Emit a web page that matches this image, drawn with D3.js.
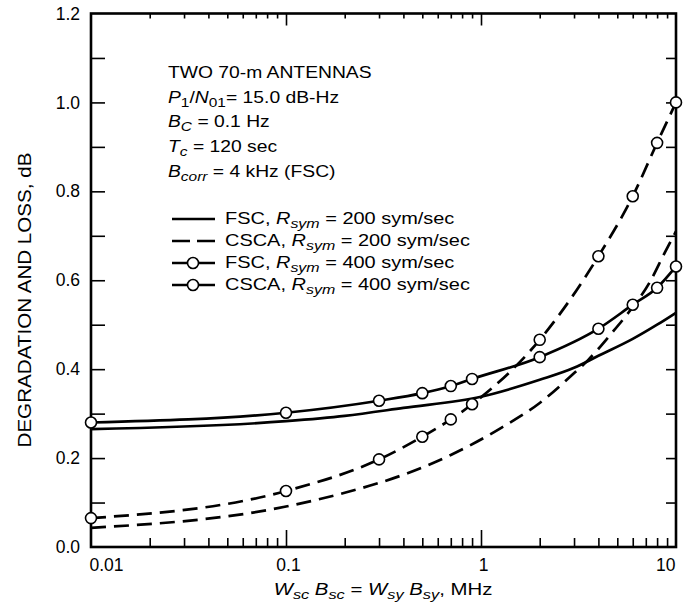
<!DOCTYPE html>
<html><head><meta charset="utf-8">
<script src="https://cdn.jsdelivr.net/npm/d3@7"></script>
<style>body{margin:0;background:#fff} text{font-family:"Liberation Sans",Arial,Helvetica,sans-serif;fill:#000}</style>
</head><body><svg id="c" width="692" height="608"></svg>
<script>
// ---- data ----
const fsc200X  = [0.01, 0.1, 0.2, 0.4, 1, 2, 3, 4, 6, 8, 10];
const fsc200Y  = [0.265, 0.283, 0.295, 0.313, 0.338, 0.376, 0.403, 0.43, 0.468, 0.50, 0.527];
const csca200X = [0.01, 0.1, 0.2, 0.42, 0.7, 1.27, 2, 2.9, 3.55, 4.7, 5.7, 7.3, 8.8, 10];
const csca200Y = [0.043, 0.091, 0.122, 0.166, 0.207, 0.268, 0.324, 0.385, 0.421, 0.482, 0.527, 0.594, 0.664, 0.71];
const sym400X  = [0.01, 0.1, 0.3, 0.5, 0.7, 0.9, 2, 4, 6, 8, 10];
const fsc400Y  = [0.28, 0.302, 0.329, 0.346, 0.362, 0.378, 0.427, 0.491, 0.545, 0.583, 0.631];
const csca400Y = [0.065, 0.126, 0.197, 0.248, 0.287, 0.321, 0.466, 0.654, 0.789, 0.909, 1.0];
const yTickLabels = [0, 0.2, 0.4, 0.6, 0.8, 1.0, 1.2];
const yTicksAll = [0.1, 0.2, 0.3, 0.4, 0.5, 0.6, 0.7, 0.8, 0.9, 1.0, 1.1];
const xTickLabels = [0.01, 0.1, 1, 10];
const xDecades = [0.01, 0.1, 1];
const xMajorInner = [0.1, 1];

const svg = d3.select('#c');
const x = d3.scaleLog().domain([0.01, 10]).range([91, 676]);
const y = d3.scaleLinear().domain([0, 1.2]).range([547, 13.5]);

const xMinor = [];
xDecades.forEach(d => { for (let k = 2; k <= 9; k++) xMinor.push(d * k); });

function ticks(axis, tr) {
  const g = svg.append('g').attr('transform', tr).call(axis);
  g.select('.domain').remove();
  g.selectAll('line').attr('stroke', '#000').attr('stroke-width', 1.6);
  g.selectAll('text').remove();
  return g;
}
ticks(d3.axisTop(x).tickValues(xMinor).tickSize(9), 'translate(0,547)');
ticks(d3.axisTop(x).tickValues(xMajorInner).tickSize(17), 'translate(0,547)');
ticks(d3.axisBottom(x).tickValues(xMinor).tickSize(5), 'translate(0,13.5)');
ticks(d3.axisBottom(x).tickValues(xMajorInner).tickSize(12), 'translate(0,13.5)');
ticks(d3.axisRight(y).tickValues(yTicksAll).tickSize(14), 'translate(91,0)');
ticks(d3.axisLeft(y).tickValues(yTicksAll).tickSize(10), 'translate(676,0)');

// frame
svg.append('rect').attr('x', x(0.01)).attr('y', y(1.2))
  .attr('width', x(10) - x(0.01)).attr('height', y(0) - y(1.2))
  .attr('fill', 'none').attr('stroke', '#000').attr('stroke-width', 2.6);

// tick labels
const gy = svg.append('g').attr('transform', 'translate(91,0)')
  .call(d3.axisLeft(y).tickValues(yTickLabels).tickSize(0).tickPadding(11).tickFormat(d3.format('.1f')));
gy.select('.domain').remove();
gy.selectAll('text').attr('font-size', 17.5).attr('font-family', '"Liberation Sans",Arial,sans-serif').attr('fill', '#000');

const gx = svg.append('g').attr('transform', 'translate(0,547)')
  .call(d3.axisBottom(x).tickValues(xTickLabels).tickSize(0).tickPadding(12).tickFormat(d => String(d)));
gx.select('.domain').remove();
gx.selectAll('text').attr('font-size', 17.5).attr('font-family', '"Liberation Sans",Arial,sans-serif').attr('fill', '#000')
  .attr('text-anchor', d => d === 0.01 ? 'start' : d === 10 ? 'end' : 'middle')
  .attr('dx', d => d === 0.01 ? -2 : d === 10 ? -1 : 2);

// rich text helper
function rich(t, segs) {
  let shifted = false;
  segs.forEach(s => {
    const ts = t.append('tspan').text(s.t);
    if (s.i) ts.attr('font-style', 'italic');
    if (s.s) {
      ts.attr('font-size', '0.8em');
      if (!shifted) { ts.attr('dy', 4); shifted = true; }
    } else if (shifted) { ts.attr('dy', -4); shifted = false; }
  });
  return t;
}

// axis titles
svg.append('text').attr('transform', 'translate(31,300) rotate(-90)')
  .attr('text-anchor', 'middle').attr('font-size', 19)
  .attr('textLength', 295).attr('lengthAdjust', 'spacingAndGlyphs')
  .text('DEGRADATION AND LOSS, dB');

rich(svg.append('text').attr('transform', 'translate(383,595) scale(1.2,1)').attr('text-anchor', 'middle').attr('font-size', 17),
  [{t: 'W', i: 1}, {t: 'sc', i: 1, s: 1}, {t: ' B', i: 1}, {t: 'sc', i: 1, s: 1}, {t: ' = '},
   {t: 'W', i: 1}, {t: 'sy', i: 1, s: 1}, {t: ' B', i: 1}, {t: 'sy', i: 1, s: 1}, {t: ', MHz'}]);

// annotation block
function block(px, py, segs, fs, sx) {
  const t = svg.append('text').attr('transform', `translate(${px},${py}) scale(${sx},1)`).attr('font-size', fs);
  return rich(t, segs);
}
block(168, 78, [{t: 'TWO 70-m ANTENNAS'}], 16.5, 1.17);
block(168, 103, [{t: 'P', i: 1}, {t: '1', s: 1}, {t: '/'}, {t: 'N', i: 1}, {t: '01', s: 1}, {t: '= 15.0 dB-Hz'}], 16.5, 1.17);
block(168, 127, [{t: 'B', i: 1}, {t: 'C', i: 1, s: 1}, {t: ' = 0.1 Hz'}], 16.5, 1.17);
block(168, 152, [{t: 'T', i: 1}, {t: 'c', i: 1, s: 1}, {t: ' = 120 sec'}], 16.5, 1.17);
block(168, 177, [{t: 'B', i: 1}, {t: 'corr', i: 1, s: 1}, {t: ' = 4 kHz (FSC)'}], 16.5, 1.17);

// series
const line = d3.line().x(d => x(d[0])).y(d => y(d[1])).curve(d3.curveMonotoneX);
const series = [
  {xs: fsc200X, ys: fsc200Y, dash: null, mark: false, label: 'FSC', rate: '200'},
  {xs: csca200X, ys: csca200Y, dash: '15,8', mark: false, label: 'CSCA', rate: '200'},
  {xs: sym400X, ys: fsc400Y, dash: null, mark: true, label: 'FSC', rate: '400'},
  {xs: sym400X, ys: csca400Y, dash: '15,8', mark: true, label: 'CSCA', rate: '400'}
];
series.forEach(s => {
  const pts = s.xs.map((v, i) => [v, s.ys[i]]);
  svg.append('path').datum(pts).attr('d', line).attr('fill', 'none').attr('stroke', '#000')
    .attr('stroke-width', 2.7).attr('stroke-dasharray', s.dash);
});
series.filter(s => s.mark).forEach(s => {
  svg.append('g').selectAll('circle').data(s.xs.map((v, i) => [v, s.ys[i]])).join('circle')
    .attr('cx', d => x(d[0])).attr('cy', d => y(d[1])).attr('r', 5.5)
    .attr('fill', '#fff').attr('stroke', '#000').attr('stroke-width', 1.6);
});

// legend
const legY = [224, 246, 268, 290];
series.forEach((s, i) => {
  const ly = legY[i] - 5;
  svg.append('line').attr('x1', 172).attr('x2', 215).attr('y1', ly).attr('y2', ly)
    .attr('stroke', '#000').attr('stroke-width', 2.7).attr('stroke-dasharray', (s.dash && !s.mark) ? '18,7' : null);
  if (s.mark) svg.append('circle').attr('cx', 193).attr('cy', ly).attr('r', 5.5)
    .attr('fill', '#fff').attr('stroke', '#000').attr('stroke-width', 1.6);
  block(225, legY[i], [{t: s.label + ', '}, {t: 'R', i: 1}, {t: 'sym', i: 1, s: 1}, {t: ' = ' + s.rate + ' sym/sec'}], 16.5, 1.21);
});
</script></body></html>
